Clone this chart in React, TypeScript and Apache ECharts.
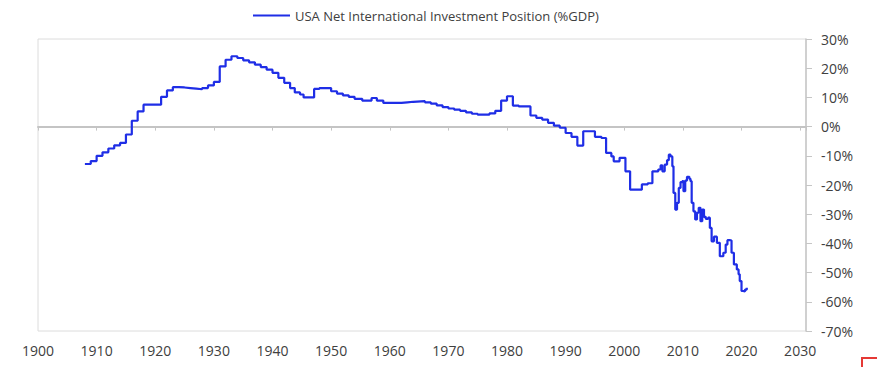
import React, { useEffect, useRef } from "react";
import * as echarts from "echarts";

const seriesName = "USA Net International Investment Position (%GDP)";

const years: number[] = [
  1908, 1909, 1910, 1911, 1912, 1913, 1914, 1915, 1916, 1917, 1918, 1921, 1922, 1923,
  1924, 1925, 1926, 1927, 1928, 1929, 1930, 1931, 1932, 1933, 1934, 1935, 1936, 1937,
  1938, 1939, 1940, 1941, 1942, 1943, 1943.8, 1944.7, 1945.3, 1947.1, 1948, 1950, 1951,
  1952, 1953, 1954, 1955.3, 1956.9, 1957.8, 1958.9, 1962, 1963, 1964, 1966, 1967, 1968,
  1969, 1970, 1971, 1972, 1973, 1974, 1975, 1977, 1978, 1979, 1980, 1981, 1982, 1984,
  1985, 1986, 1987, 1988, 1989, 1990, 1991, 1992, 1993, 1995, 1996.1, 1996.9, 1997.8,
  1998.2, 1999.2, 2000.2, 2001.0, 2003.0, 2004.0, 2004.8, 2005.8, 2006.2, 2006.5,
  2006.9, 2007.3, 2007.6, 2007.9, 2008.2, 2008.4, 2008.7, 2009.0, 2009.3, 2009.6,
  2009.9, 2010.1, 2010.4, 2010.7, 2011.1, 2011.3, 2011.5, 2011.8, 2012.1, 2012.4,
  2012.7, 2013.0, 2013.3, 2013.6, 2013.9, 2014.3, 2014.6, 2014.9, 2015.3, 2015.8,
  2016.3, 2016.9, 2017.3, 2017.6, 2018.0, 2018.3, 2018.7, 2019.2, 2019.5, 2019.7,
  2020.0, 2020.3, 2020.6, 2020.9,
];

const values: number[] = [
  -12.8, -11.8, -10.0, -8.8, -7.5, -6.4, -5.6, -2.7, 2.0, 5.2, 7.5, 10.2, 12.4, 13.5,
  13.4, 13.2, 13.0, 12.8, 13.2, 14.1, 15.3, 20.6, 22.9, 24.1, 23.5, 22.7, 22.0, 21.2,
  20.4, 19.5, 18.4, 16.7, 15.0, 13.2, 11.7, 11.0, 10.0, 12.9, 13.2, 12.1, 11.3,
  10.7, 10.2, 9.5, 8.9, 9.8, 8.9, 8.1, 8.3, 8.5, 8.7, 8.3, 7.9, 7.3,
  6.7, 6.2, 5.8, 5.4, 4.9, 4.4, 4.1, 4.5, 5.4, 8.9, 10.4, 7.2, 6.9, 3.8,
  3.0, 2.4, 1.3, 0.3, -0.4, -2.2, -3.5, -6.5, -1.6, -3.5, -3.9, -9.0, -10.2,
  -11.9, -10.7, -15.3, -21.6, -19.8, -19.4, -15.3, -14.7, -13.3, -15.3,
  -13.0, -11.5, -9.6, -10.2, -13.6, -22.7, -28.4, -26.1, -21.0, -19.0,
  -18.7, -22.1, -18.5, -17.2, -17.9, -18.7, -26.1, -29.0, -31.8, -29.5,
  -27.8, -32.4, -28.4, -30.9, -31.6, -31.2, -34.7, -39.3, -37.7, -39.8,
  -44.4, -43.2, -40.4, -38.9, -39.0, -43.2, -47.2, -48.9, -50.6, -52.9,
  -56.3, -56.5, -55.8, -55.2,
];

const xMin = 1900;
const xMax = 2031;
const xStep = 10;
const yMin = -70;
const yMax = 30;
const yStep = 10;

const FONT = "'Open Sans', 'Noto Sans', sans-serif";

export default function App() {
  const ref = useRef<HTMLDivElement>(null);

  useEffect(() => {
    if (!ref.current) return;
    const chart = echarts.init(ref.current, null, { renderer: "svg" });
    const data = years.map((y, i) => [y, values[i]]);
    chart.setOption({
      animation: false,
      backgroundColor: "#ffffff",
      textStyle: { fontFamily: FONT },
      legend: {
        data: [seriesName],
        left: 248,
        top: 4,
        icon: "rect",
        itemWidth: 37,
        itemHeight: 2,
        textStyle: { fontSize: 13, color: "#404040", fontFamily: FONT },
      },
      grid: {
        left: 38,
        right: 71,
        top: 39,
        bottom: 36,
        show: true,
        borderColor: "#dcdcdc",
        borderWidth: 1,
        backgroundColor: "transparent",
      },
      xAxis: [
        {
          type: "value",
          min: xMin,
          max: xMax,
          interval: xStep,
          position: "bottom",
          axisLine: { show: false, onZero: false },
          axisTick: { show: false },
          splitLine: { show: false },
          axisLabel: {
            showMaxLabel: false,
            margin: 12,
            fontSize: 14,
            color: "#404040",
            fontFamily: FONT,
            formatter: (v: number) => String(v),
          },
        },
        {
          type: "value",
          min: xMin,
          max: xMax,
          interval: xStep,
          position: "bottom",
          axisLine: {
            show: true,
            onZero: true,
            onZeroAxisIndex: 0,
            lineStyle: { color: "#c4c4c4", width: 2 },
          },
          axisTick: {
            show: true,
            length: 4,
            lineStyle: { color: "#c4c4c4", width: 1 },
          },
          splitLine: { show: false },
          axisLabel: { show: false },
        },
      ],
      yAxis: {
        type: "value",
        min: yMin,
        max: yMax,
        interval: yStep,
        position: "right",
        axisLine: { show: true, onZero: false, lineStyle: { color: "#c6c6c6", width: 1.5 } },
        axisTick: { show: true, length: 6, lineStyle: { color: "#c6c6c6" } },
        splitLine: { show: false },
        axisLabel: {
          formatter: "{value}%",
          margin: 15,
          fontSize: 14,
          color: "#404040",
          fontFamily: FONT,
        },
      },
      graphic: [
        {
          type: "polyline",
          shape: { points: [[862, 367], [862, 358], [877, 358]] },
          style: { stroke: "#e53935", lineWidth: 2, fill: "none" },
        },
      ],
      series: [
        {
          name: seriesName,
          type: "line",
          xAxisIndex: 0,
          yAxisIndex: 0,
          step: "end",
          showSymbol: false,
          symbol: "none",
          lineStyle: { color: "#1f2ee6", width: 2.2 },
          itemStyle: { color: "#1f2ee6" },
          data,
        },
      ],
    });
    return () => chart.dispose();
  }, []);

  return (
    <div
      ref={ref}
      style={{ position: "fixed", left: 0, top: 0, width: 877, height: 367 }}
    />
  );
}
